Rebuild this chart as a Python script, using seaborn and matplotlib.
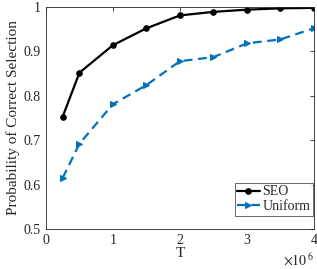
import matplotlib
matplotlib.use("Agg")
import matplotlib.pyplot as plt
import seaborn as sns
import pandas as pd

T = [0.25e6, 0.5e6, 1e6, 1.5e6, 2e6, 2.5e6, 3e6, 3.5e6, 4e6]
seo = [0.753, 0.852, 0.914, 0.952, 0.981, 0.989, 0.994, 0.997, 0.998]
uniform = [0.615, 0.692, 0.781, 0.824, 0.878, 0.887, 0.918, 0.927, 0.952]

sns.set_style("white")
plt.rcParams["font.family"] = ["Liberation Serif", "DejaVu Serif"]
plt.rcParams["mathtext.fontset"] = "stix"

df = pd.DataFrame({"T": T + T, "p": seo + uniform,
                   "method": ["SEO"] * len(T) + ["Uniform"] * len(T)})

fig = plt.figure(figsize=(3.17, 2.69), dpi=100)
ax = fig.add_axes([0.145, 0.149, 0.845, 0.825])

sns.lineplot(data=df[df.method == "SEO"], x="T", y="p", ax=ax, color="black",
             lw=1.6, marker="o", markersize=4, markeredgecolor="black", label="SEO")
sns.lineplot(data=df[df.method == "Uniform"], x="T", y="p", ax=ax, color="#0072BD",
             lw=1.6, ls=(0, (4, 2.5)), marker=">", markersize=4,
             markeredgecolor="#0072BD", label="Uniform")

ax.set_xlim(0, 4e6)
ax.set_ylim(0.5, 1)
ax.set_xticks([0, 1e6, 2e6, 3e6, 4e6])
ax.set_xticklabels(["0", "1", "2", "3", "4"])
ax.set_yticks([0.5, 0.6, 0.7, 0.8, 0.9, 1.0])
ax.set_yticklabels(["0.5", "0.6", "0.7", "0.8", "0.9", "1"])
ax.tick_params(direction="in", length=3, width=0.6, labelsize=10, colors="#262626",
               top=True, right=True, pad=4)
for s in ax.spines.values():
    s.set_linewidth(0.6)
    s.set_color("#262626")
ax.set_xlabel("T", fontsize=11, labelpad=0)
ax.set_ylabel("Probability of Correct Selection", fontsize=11, labelpad=2)
ax.text(1.0, -0.105, r"$\times10^{\,6}$", transform=ax.transAxes, ha="right",
        va="top", fontsize=10, color="#262626")

leg = ax.legend(loc="lower right", bbox_to_anchor=(0.997, 0.06), fontsize=10,
                frameon=True, fancybox=False, handlelength=1.6, handletextpad=0.2,
                borderpad=0.2, labelspacing=0.1, borderaxespad=0)
leg.get_frame().set_edgecolor("#262626")
leg.get_frame().set_linewidth(0.6)

fig.savefig("out.png", dpi=100)
